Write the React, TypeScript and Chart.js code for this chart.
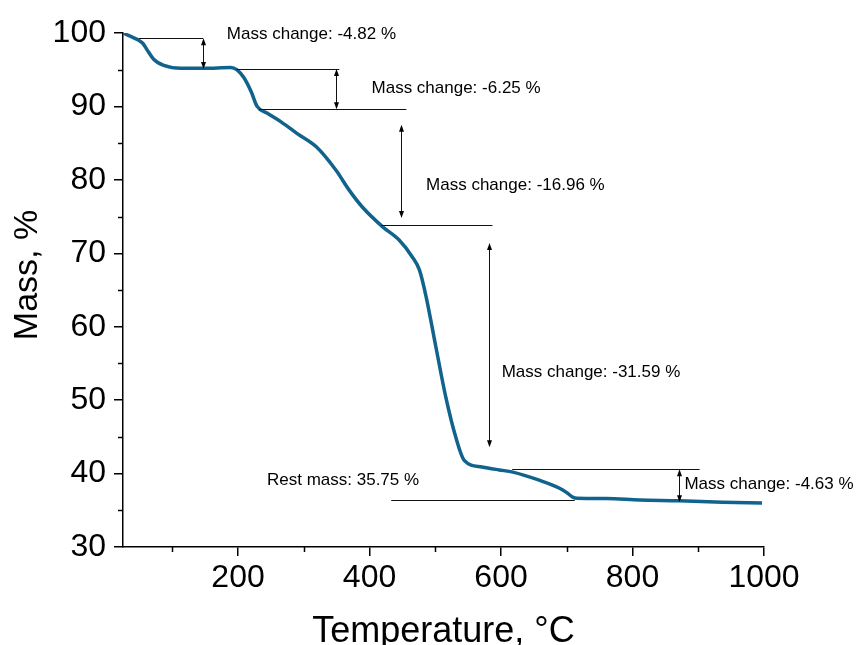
import React, { useEffect, useRef } from 'react';
import { Chart, registerables } from 'chart.js';

Chart.register(...registerables);

// ---- data ----
const temperatures = [25, 35, 49, 55, 61, 72, 87, 113, 148, 189, 198, 209, 220, 229, 244, 267, 290, 319, 349, 369, 389, 420, 445, 465, 476, 486, 501, 516, 531, 544, 571, 597, 618, 658, 689, 700, 709, 716, 760, 811, 871, 937, 997];
const masses = [100, 99.6, 99.0, 98.6, 97.8, 96.4, 95.6, 95.2, 95.2, 95.3, 95.0, 93.9, 92.0, 90.0, 89.1, 87.8, 86.3, 84.5, 81.3, 78.6, 76.3, 73.6, 71.8, 69.5, 67.7, 64.1, 57.2, 50.4, 45.0, 41.8, 40.9, 40.5, 40.2, 39.1, 38.0, 37.4, 36.8, 36.65, 36.6, 36.4, 36.3, 36.1, 36.0];

const xMajorTicks = [200, 400, 600, 800, 1000];
const xMinorTicks = [100, 300, 500, 700, 900];
const yMajorTicks = [30, 40, 50, 60, 70, 80, 90, 100];
const yMinorTicks = [35, 45, 55, 65, 75, 85, 95];

// level lines: x start, x end, y
const levelLineX1 = [49, 198, 232, 418, 617, 433];
const levelLineX2 = [147, 354, 456, 587, 902, 712];
const levelLineY = [99.3, 95.1, 89.6, 73.9, 40.6, 36.4];

// double arrows: x, y from, y to
const arrowX = [147, 349, 448, 581, 870];
const arrowY1 = [99.3, 95.1, 87.5, 71.4, 40.6];
const arrowY2 = [95.1, 89.6, 74.8, 43.6, 36.1];

// labels
const labelTexts = ['Mass change: -4.82 %', 'Mass change: -6.25 %', 'Mass change: -16.96 %', 'Mass change: -31.59 %', 'Rest mass: 35.75 %', 'Mass change: -4.63 %'];
const labelX = [183, 403, 486, 601, 244, 879];
const labelY = [99.86, 92.4, 79.2, 53.8, 39.1, 38.6];

const yTitle = 'Mass, %';
const xTitle = 'Temperature, °C';

const FONT = "'Liberation Sans', Arial, sans-serif";

const annotationPlugin = {
  id: 'tgaAnnotations',
  afterDatasetsDraw(chart: any) {
    const { ctx, scales } = chart;
    const xs = scales.x;
    const ys = scales.y;
    const area = chart.chartArea;
    ctx.save();
    // minor ticks
    ctx.strokeStyle = '#000';
    ctx.lineWidth = 1.5;
    ctx.beginPath();
    yMinorTicks.forEach((v) => {
      const py = Math.round(ys.getPixelForValue(v)) + 0.5;
      ctx.moveTo(area.left - 5, py);
      ctx.lineTo(area.left, py);
    });
    xMinorTicks.forEach((v) => {
      const px = Math.round(xs.getPixelForValue(v)) + 0.5;
      ctx.moveTo(px, area.bottom);
      ctx.lineTo(px, area.bottom + 5);
    });
    ctx.stroke();

    // level lines
    ctx.lineWidth = 1;
    ctx.strokeStyle = '#111';
    ctx.beginPath();
    levelLineY.forEach((y, i) => {
      const py = Math.round(ys.getPixelForValue(y)) + 0.5;
      ctx.moveTo(xs.getPixelForValue(levelLineX1[i]), py);
      ctx.lineTo(xs.getPixelForValue(levelLineX2[i]), py);
    });
    ctx.stroke();

    // arrows
    ctx.fillStyle = '#000';
    arrowX.forEach((x, i) => {
      const px = Math.round(xs.getPixelForValue(x)) + 0.5;
      const pTop = ys.getPixelForValue(arrowY1[i]);
      const pBot = ys.getPixelForValue(arrowY2[i]);
      ctx.beginPath();
      ctx.moveTo(px, pTop + 5);
      ctx.lineTo(px, pBot - 5);
      ctx.stroke();
      ctx.beginPath();
      ctx.moveTo(px, pTop);
      ctx.lineTo(px - 2.5, pTop + 7);
      ctx.lineTo(px + 2.5, pTop + 7);
      ctx.closePath();
      ctx.fill();
      ctx.beginPath();
      ctx.moveTo(px, pBot);
      ctx.lineTo(px - 2.5, pBot - 7);
      ctx.lineTo(px + 2.5, pBot - 7);
      ctx.closePath();
      ctx.fill();
    });

    // labels
    ctx.fillStyle = '#000';
    ctx.font = `17px ${FONT}`;
    ctx.textAlign = 'left';
    ctx.textBaseline = 'middle';
    labelTexts.forEach((t, i) => {
      ctx.fillText(t, xs.getPixelForValue(labelX[i]), ys.getPixelForValue(labelY[i]));
    });

    // y axis title
    ctx.save();
    ctx.translate(28, (area.top + area.bottom) / 2 - 15);
    ctx.rotate(-Math.PI / 2);
    ctx.font = `34px ${FONT}`;
    ctx.textAlign = 'center';
    ctx.textBaseline = 'middle';
    ctx.fillText(yTitle, 0, 0);
    ctx.restore();

    ctx.restore();
  },
};

export default function App() {
  const canvasRef = useRef<HTMLCanvasElement | null>(null);

  useEffect(() => {
    if (!canvasRef.current) return;
    const points = temperatures.map((t, i) => ({ x: t, y: masses[i] }));
    const chart = new Chart(canvasRef.current, {
      type: 'line',
      data: {
        datasets: [
          {
            data: points,
            borderColor: '#10638c',
            borderWidth: 3.5,
            pointRadius: 0,
            fill: false,
            cubicInterpolationMode: 'monotone',
          },
        ],
      },
      options: {
        responsive: false,
        animation: false,
        layout: { padding: { left: 0, right: 93, top: 33, bottom: 0 } },
        plugins: {
          legend: { display: false },
          tooltip: { enabled: false },
        },
        scales: {
          x: {
            type: 'linear',
            min: 25,
            max: 1000,
            afterBuildTicks: (scale: any) => {
              scale.ticks = xMajorTicks.map((v) => ({ value: v }));
            },
            afterFit: (scale: any) => {
              scale.height = 98;
            },
            grid: {
              drawOnChartArea: false,
              drawTicks: true,
              tickLength: 9,
              color: '#000',
              lineWidth: 1.5,
            },
            border: { display: true, color: '#000', width: 1.5 },
            ticks: {
              color: '#000',
              padding: 3,
              maxRotation: 0,
              autoSkip: false,
              font: { family: FONT, size: 32 },
              callback: (v: any) => String(v),
            },
            title: {
              display: true,
              text: xTitle,
              color: '#000',
              padding: { top: 0, bottom: -5 },
              font: { family: FONT, size: 36, lineHeight: 1 },
            },
          },
          y: {
            type: 'linear',
            min: 30,
            max: 100,
            afterBuildTicks: (scale: any) => {
              scale.ticks = yMajorTicks.map((v) => ({ value: v }));
            },
            afterFit: (scale: any) => {
              scale.width = 123;
            },
            grid: {
              drawOnChartArea: false,
              drawTicks: true,
              tickLength: 9,
              color: '#000',
              lineWidth: 1.5,
            },
            border: { display: true, color: '#000', width: 1.5 },
            ticks: {
              color: '#000',
              padding: 8,
              autoSkip: false,
              font: { family: FONT, size: 32 },
              callback: (v: any) => String(v),
            },
            title: { display: false },
          },
        },
      },
      plugins: [annotationPlugin],
    });
    return () => chart.destroy();
  }, []);

  return (
    <canvas
      ref={canvasRef}
      width={857}
      height={645}
      style={{ position: 'fixed', left: 0, top: 0, display: 'block' }}
    />
  );
}
